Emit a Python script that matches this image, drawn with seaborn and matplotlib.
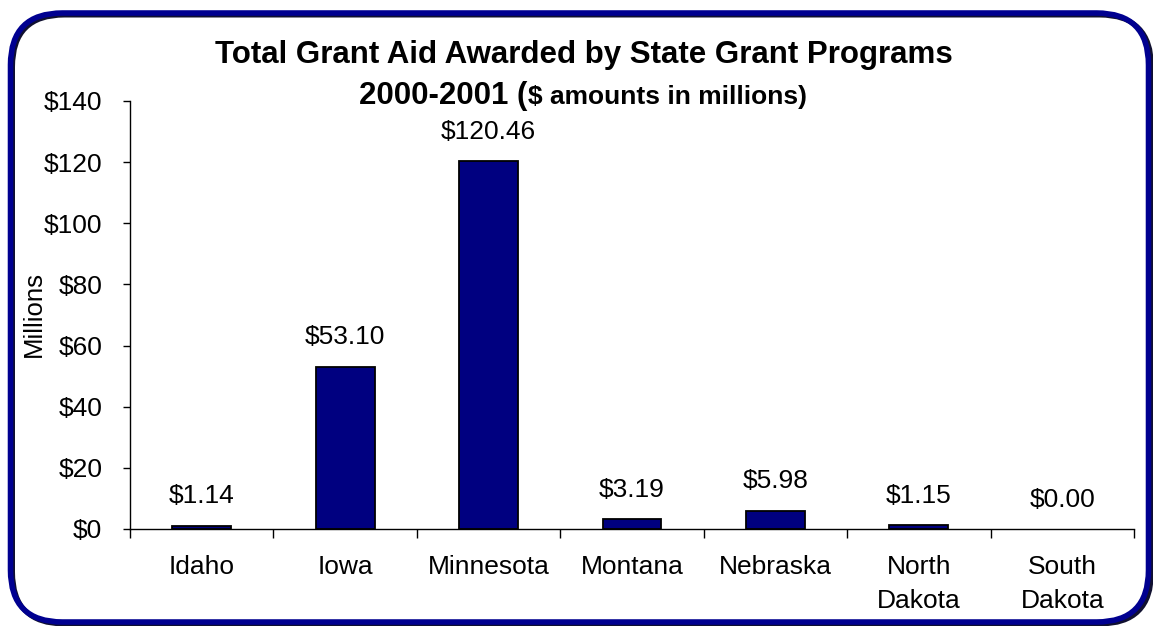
import matplotlib
matplotlib.use("Agg")
import matplotlib.pyplot as plt
import seaborn as sns
import pandas as pd
from matplotlib.patches import FancyBboxPatch
from matplotlib.ticker import FixedLocator

states = ["Idaho", "Iowa", "Minnesota", "Montana", "Nebraska", "North\nDakota", "South\nDakota"]
values = [1.14, 53.10, 120.46, 3.19, 5.98, 1.15, 0.00]
yticks = [0, 20, 40, 60, 80, 100, 120, 140]
ytick_labels = ["$0", "$20", "$40", "$60", "$80", "$100", "$120", "$140"]
title_line1 = "Total Grant Aid Awarded by State Grant Programs"
title_line2a = "2000-2001 ("
title_line2b = "$ amounts in millions)"
ylabel = "Millions"

sns.set_theme(style="white")
plt.rcParams["font.family"] = ["Liberation Sans", "DejaVu Sans"]

W, H, DPI = 1153, 626, 100
fig = plt.figure(figsize=(W / DPI, H / DPI), dpi=DPI)
fig.patch.set_facecolor("white")

def fx(px):
    return px / W

def fy(py):
    return 1 - py / H

# rounded border with shadow
shadow = FancyBboxPatch((fx(12.5), fy(624)), fx(1139), fy(15) - fy(624),
                        boxstyle="round,pad=0,rounding_size=0.045",
                        transform=fig.transFigure, fill=False,
                        edgecolor="#101030", linewidth=3.6, mutation_aspect=W / H,
                        zorder=0)
fig.patches.append(shadow)
border = FancyBboxPatch((fx(10.5), fy(622)), fx(1138), fy(13) - fy(622),
                        boxstyle="round,pad=0,rounding_size=0.045",
                        transform=fig.transFigure, fill=False,
                        edgecolor="#000090", linewidth=4.0, mutation_aspect=W / H,
                        zorder=1)
fig.patches.append(border)

ax = fig.add_axes([fx(130), fy(529), fx(1134) - fx(130), fy(101) - fy(529)])
df = pd.DataFrame({"state": states, "value": values})
sns.barplot(data=df, x="state", y="value", color="#000080", edgecolor="black",
            linewidth=1.3, width=0.41, saturation=1, ax=ax)
for p in ax.patches:
    if p.get_height() == 0:
        p.set_linewidth(0)

ax.set_xlim(-0.5, len(states) - 0.5)
ax.set_ylim(0, 140)
ax.set_yticks(yticks)
ax.set_yticklabels(ytick_labels)
ax.set_xlabel("")
ax.set_ylabel(ylabel, fontsize=18.5, color="black")
ax.yaxis.set_label_coords((22 - 130) / 1004, (529 - 314) / 428)
ax.yaxis.label.set_va("top")

for s in ["top", "right"]:
    ax.spines[s].set_visible(False)
for s in ["left", "bottom"]:
    ax.spines[s].set_color("black")
    ax.spines[s].set_linewidth(1.0)

ax.tick_params(axis="y", which="major", direction="out", length=5, width=1,
               color="black", pad=15, labelsize=19, labelcolor="black", left=True)
ax.tick_params(axis="x", which="major", length=0, pad=19, labelsize=19, labelcolor="black")
ax.xaxis.set_minor_locator(FixedLocator([i - 0.5 for i in range(len(states) + 1)]))
ax.tick_params(axis="x", which="minor", direction="out", length=6.5, width=1,
               color="black", bottom=True)
for lbl in ax.get_xticklabels():
    lbl.set_linespacing(1.5)

for i, v in enumerate(values):
    ax.annotate(f"${v:.2f}", xy=(i, v), xytext=(0, 16), textcoords="offset points",
                ha="center", va="baseline", fontsize=19, color="black")

fig.text(fx(583.5), fy(63), title_line1, ha="center", va="baseline",
         fontsize=22.5, fontweight="bold", color="black")
fig.text(fx(527), fy(104), title_line2a, ha="right", va="baseline",
         fontsize=22.5, fontweight="bold", color="black")
fig.text(fx(528), fy(104), title_line2b, ha="left", va="baseline",
         fontsize=19, fontweight="bold", color="black")

fig.savefig("out.png", dpi=DPI, facecolor="white")
